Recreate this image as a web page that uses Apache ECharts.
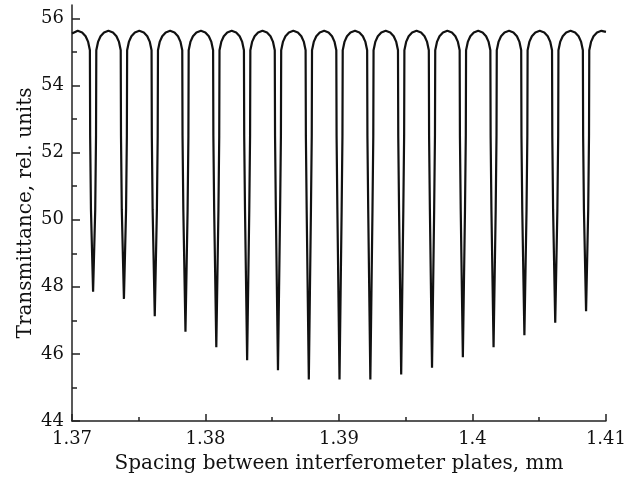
<!DOCTYPE html>
<html>
<head>
<meta charset="utf-8">
<script src="https://cdn.jsdelivr.net/npm/echarts@6/dist/echarts.min.js"></script>
<style>
  html, body { margin: 0; padding: 0; background: #fff; }
  #main { width: 629px; height: 479px; }
</style>
</head>
<body>
<div id="main"></div>
<script>
"use strict";

// Spacing between plates, mm (one line per fringe: dip sides, dip, peak)
let spacing = [
  1.37000, 1.37043,
  1.37076, 1.37102, 1.37121, 1.37134, 1.37136, 1.37142, 1.37158, 1.37174, 1.37180, 1.37182, 1.37195, 1.37214, 1.37240, 1.37273,
  1.37307, 1.37333, 1.37352, 1.37365, 1.37367, 1.37373, 1.37389, 1.37405, 1.37411, 1.37413, 1.37426, 1.37445, 1.37471, 1.37504,
  1.37538, 1.37564, 1.37583, 1.37596, 1.37598, 1.37604, 1.37620, 1.37636, 1.37642, 1.37644, 1.37657, 1.37676, 1.37702, 1.37735,
  1.37768, 1.37794, 1.37813, 1.37826, 1.37828, 1.37834, 1.37850, 1.37866, 1.37872, 1.37874, 1.37887, 1.37906, 1.37932, 1.37966,
  1.37999, 1.38025, 1.38044, 1.38057, 1.38059, 1.38065, 1.38081, 1.38097, 1.38103, 1.38105, 1.38118, 1.38137, 1.38163, 1.38196,
  1.38230, 1.38256, 1.38275, 1.38288, 1.38290, 1.38296, 1.38312, 1.38328, 1.38334, 1.38336, 1.38349, 1.38368, 1.38394, 1.38427,
  1.38461, 1.38487, 1.38506, 1.38519, 1.38521, 1.38527, 1.38543, 1.38559, 1.38565, 1.38567, 1.38580, 1.38599, 1.38625, 1.38658,
  1.38692, 1.38718, 1.38737, 1.38750, 1.38752, 1.38758, 1.38774, 1.38790, 1.38796, 1.38798, 1.38811, 1.38830, 1.38856, 1.38889,
  1.38922, 1.38948, 1.38967, 1.38980, 1.38982, 1.38988, 1.39004, 1.39020, 1.39026, 1.39028, 1.39041, 1.39060, 1.39086, 1.39120,
  1.39153, 1.39179, 1.39198, 1.39211, 1.39213, 1.39219, 1.39235, 1.39251, 1.39257, 1.39259, 1.39272, 1.39291, 1.39317, 1.39350,
  1.39384, 1.39410, 1.39429, 1.39442, 1.39444, 1.39450, 1.39466, 1.39482, 1.39488, 1.39490, 1.39503, 1.39522, 1.39548, 1.39581,
  1.39615, 1.39641, 1.39660, 1.39673, 1.39675, 1.39681, 1.39697, 1.39713, 1.39719, 1.39721, 1.39734, 1.39753, 1.39779, 1.39812,
  1.39846, 1.39872, 1.39891, 1.39904, 1.39906, 1.39912, 1.39928, 1.39944, 1.39950, 1.39952, 1.39965, 1.39984, 1.40010, 1.40043,
  1.40076, 1.40102, 1.40121, 1.40134, 1.40136, 1.40142, 1.40158, 1.40174, 1.40180, 1.40182, 1.40195, 1.40214, 1.40240, 1.40274,
  1.40307, 1.40333, 1.40352, 1.40365, 1.40367, 1.40373, 1.40389, 1.40405, 1.40411, 1.40413, 1.40426, 1.40445, 1.40471, 1.40504,
  1.40538, 1.40564, 1.40583, 1.40596, 1.40598, 1.40604, 1.40620, 1.40636, 1.40642, 1.40644, 1.40657, 1.40676, 1.40702, 1.40735,
  1.40769, 1.40795, 1.40814, 1.40827, 1.40829, 1.40835, 1.40851, 1.40867, 1.40873, 1.40875, 1.40888, 1.40907, 1.40933, 1.40966,
  1.41000
];

// Transmittance, rel. units
let transmittance = [
  55.55, 55.63,
  55.58, 55.47, 55.30, 55.05, 52.50, 50.30, 47.85, 50.30, 52.50, 55.05, 55.30, 55.47, 55.58, 55.63,
  55.58, 55.47, 55.30, 55.05, 52.50, 50.30, 47.64, 50.30, 52.50, 55.05, 55.30, 55.47, 55.58, 55.63,
  55.58, 55.47, 55.30, 55.05, 52.50, 50.30, 47.12, 50.30, 52.50, 55.05, 55.30, 55.47, 55.58, 55.63,
  55.58, 55.47, 55.30, 55.05, 52.50, 50.30, 46.66, 50.30, 52.50, 55.05, 55.30, 55.47, 55.58, 55.63,
  55.58, 55.47, 55.30, 55.05, 52.50, 50.30, 46.20, 50.30, 52.50, 55.05, 55.30, 55.47, 55.58, 55.63,
  55.58, 55.47, 55.30, 55.05, 52.50, 50.30, 45.81, 50.30, 52.50, 55.05, 55.30, 55.47, 55.58, 55.63,
  55.58, 55.47, 55.30, 55.05, 52.50, 50.30, 45.51, 50.30, 52.50, 55.05, 55.30, 55.47, 55.58, 55.63,
  55.58, 55.47, 55.30, 55.05, 52.50, 50.30, 45.24, 50.30, 52.50, 55.05, 55.30, 55.47, 55.58, 55.63,
  55.58, 55.47, 55.30, 55.05, 52.50, 50.30, 45.24, 50.30, 52.50, 55.05, 55.30, 55.47, 55.58, 55.63,
  55.58, 55.47, 55.30, 55.05, 52.50, 50.30, 45.24, 50.30, 52.50, 55.05, 55.30, 55.47, 55.58, 55.63,
  55.58, 55.47, 55.30, 55.05, 52.50, 50.30, 45.39, 50.30, 52.50, 55.05, 55.30, 55.47, 55.58, 55.63,
  55.58, 55.47, 55.30, 55.05, 52.50, 50.30, 45.59, 50.30, 52.50, 55.05, 55.30, 55.47, 55.58, 55.63,
  55.58, 55.47, 55.30, 55.05, 52.50, 50.30, 45.90, 50.30, 52.50, 55.05, 55.30, 55.47, 55.58, 55.63,
  55.58, 55.47, 55.30, 55.05, 52.50, 50.30, 46.20, 50.30, 52.50, 55.05, 55.30, 55.47, 55.58, 55.63,
  55.58, 55.47, 55.30, 55.05, 52.50, 50.30, 46.56, 50.30, 52.50, 55.05, 55.30, 55.47, 55.58, 55.63,
  55.58, 55.47, 55.30, 55.05, 52.50, 50.30, 46.93, 50.30, 52.50, 55.05, 55.30, 55.47, 55.58, 55.63,
  55.58, 55.47, 55.30, 55.05, 52.50, 50.30, 47.27, 50.30, 52.50, 55.05, 55.30, 55.47, 55.58, 55.63,
  55.60
];

let yLabelTicks = [44, 46, 48, 50, 52, 54, 56];
let yMinorTicks = [45, 47, 49, 51, 53, 55];

let serif = 'DejaVu Serif';
let axisColor = '#222';

let points = [];
for (let i = 0; i < spacing.length; i++) {
    points.push([spacing[i], transmittance[i]]);
}

let myChart = echarts.init(document.getElementById('main'));

let option = {
    animation: false,
    backgroundColor: '#fff',
    grid: { left: 72, right: 21, top: 5, bottom: 57 },
    xAxis: {
        type: 'value',
        min: 1.37,
        max: 1.41,
        interval: 0.01,
        name: 'Spacing between interferometer plates, mm',
        nameLocation: 'middle',
        nameGap: 33,
        nameTextStyle: { color: '#111', fontFamily: serif, fontSize: 20 },
        axisLine: { lineStyle: { color: axisColor, width: 1.5 } },
        axisTick: { inside: true, length: 7, lineStyle: { color: axisColor, width: 1.5 } },
        minorTick: { show: true, splitNumber: 2, length: 4, lineStyle: { color: axisColor, width: 1.5 } },
        axisLabel: {
            color: '#111', fontFamily: serif, fontSize: 18, margin: 9,
            formatter: function (v) { return String(+v.toFixed(2)); }
        },
        splitLine: { show: false }
    },
    yAxis: [
        {
            type: 'value',
            min: 44,
            max: 56.4,
            position: 'left',
            name: 'Transmittance, rel. units',
            nameLocation: 'middle',
            nameGap: 36,
            nameMoveOverlap: false,
            nameTextStyle: { color: '#111', fontFamily: serif, fontSize: 20 },
            axisLine: { show: true, lineStyle: { color: axisColor, width: 1.5 } },
            axisTick: { inside: true, length: 8, customValues: yLabelTicks, lineStyle: { color: axisColor, width: 1.5 } },
            axisLabel: { color: '#111', fontFamily: serif, fontSize: 18, margin: 8, customValues: yLabelTicks },
            splitLine: { show: false }
        },
        {
            type: 'value',
            min: 44,
            max: 56.4,
            position: 'left',
            axisLine: { show: false },
            axisTick: { show: true, inside: true, length: 5, customValues: yMinorTicks, lineStyle: { color: axisColor, width: 1.5 } },
            axisLabel: { show: false },
            splitLine: { show: false }
        }
    ],
    series: [{
        type: 'line',
        data: points,
        showSymbol: false,
        yAxisIndex: 0,
        lineStyle: { color: '#111', width: 2.2 }
    }]
};

myChart.setOption(option);
</script>
</body>
</html>
